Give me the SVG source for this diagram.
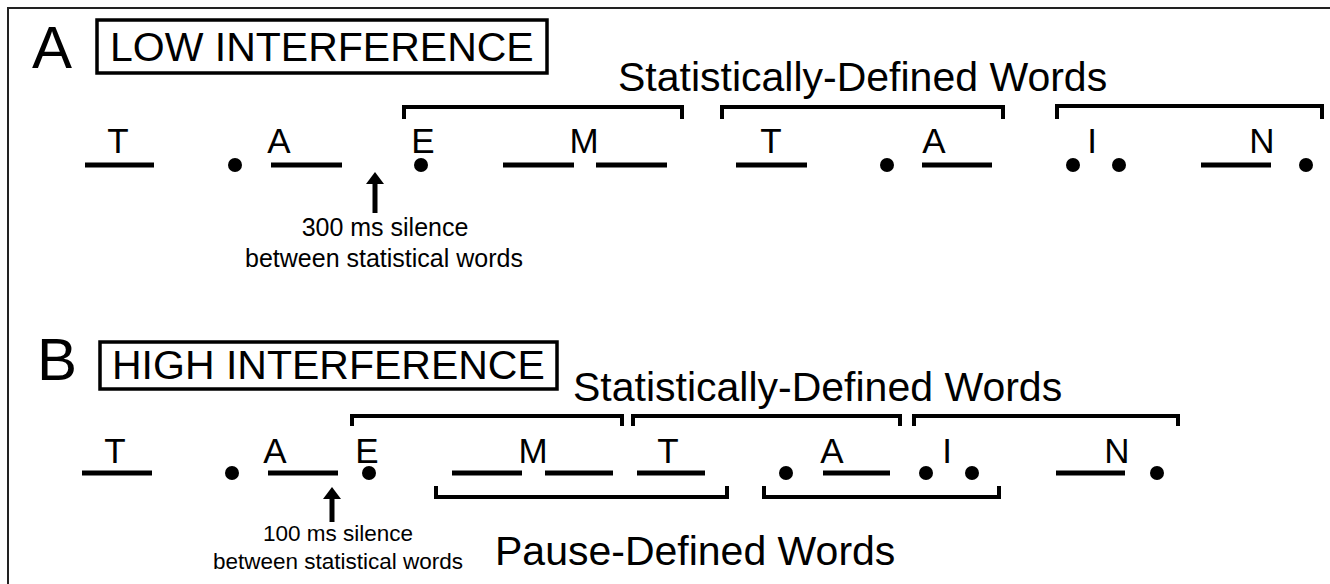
<svg xmlns="http://www.w3.org/2000/svg" width="1330" height="584" viewBox="0 0 1330 584">
<style>
text{font-family:"Liberation Sans",Arial,sans-serif;fill:#000}
.big{font-size:60px}
.title{font-size:41px}
.lab{font-size:35px;text-anchor:middle}
.small{font-size:25px;text-anchor:middle}
.smallb{font-size:22.5px;text-anchor:middle}
.seg{stroke:#000;stroke-width:5;fill:none}
.br{stroke:#000;stroke-width:4;fill:none;stroke-linejoin:miter}
.box{stroke:#000;stroke-width:3.5;fill:none}
.dot{fill:#000}
</style>
<defs>
<marker id="ah" viewBox="0 0 10 10" refX="5" refY="0" markerWidth="4" markerHeight="2.4" orient="auto" markerUnits="strokeWidth">
</marker>
</defs>
<rect width="1330" height="584" fill="#fff"/>
<path d="M8,600 V8 H1340" stroke="#222" stroke-width="2" fill="none"/>

<g id="panelA">
<g id="A-header">
<text class="big" x="32" y="68">A</text>
<rect class="box" x="97" y="20" width="450" height="53"/>
<text class="title" x="110" y="61">LOW INTERFERENCE</text>
<text class="title" x="618" y="91">Statistically-Defined Words</text>
</g>
<g id="A-T"><text class="lab" x="118" y="153">T</text><line class="seg" x1="85" y1="165" x2="154" y2="165"/></g>
<g id="A-dot1"><circle class="dot" cx="235" cy="165" r="7"/></g>
<g id="A-A"><text class="lab" x="279" y="153">A</text><line class="seg" x1="271" y1="165" x2="342" y2="165"/></g>
<g id="A-E"><text class="lab" x="423" y="153">E</text><circle class="dot" cx="421" cy="165" r="7"/></g>
<g id="A-M"><text class="lab" x="584" y="153">M</text><line class="seg" x1="503" y1="165" x2="574" y2="165"/><line class="seg" x1="596" y1="165" x2="667" y2="165"/></g>
<g id="A-T2"><text class="lab" x="771" y="153">T</text><line class="seg" x1="736" y1="165" x2="807" y2="165"/></g>
<g id="A-dot2"><circle class="dot" cx="887" cy="165" r="7"/></g>
<g id="A-A2"><text class="lab" x="934" y="153">A</text><line class="seg" x1="922" y1="165" x2="992" y2="165"/></g>
<g id="A-I"><circle class="dot" cx="1073" cy="165" r="7"/><text class="lab" x="1092" y="153">I</text><circle class="dot" cx="1119" cy="165" r="7"/></g>
<g id="A-N"><text class="lab" x="1262" y="153">N</text><line class="seg" x1="1201" y1="165" x2="1271" y2="165"/></g>
<g id="A-dot3"><circle class="dot" cx="1306" cy="165" r="7"/></g>
<g id="A-note">
<text class="small" x="385" y="236">300 ms silence</text>
<text class="small" x="384" y="267">between statistical words</text>
</g>
</g>

<g id="panelB">
<g id="B-header">
<text class="big" x="37" y="380">B</text>
<rect class="box" x="100" y="342" width="457" height="47"/>
<text class="title" x="112" y="379">HIGH INTERFERENCE</text>
<text class="title" x="573" y="401">Statistically-Defined Words</text>
<text class="title" x="495" y="565">Pause-Defined Words</text>
</g>
<g id="B-T"><text class="lab" x="115" y="463">T</text><line class="seg" x1="82" y1="473" x2="152" y2="473"/></g>
<g id="B-dot1"><circle class="dot" cx="232" cy="473" r="7"/></g>
<g id="B-A"><text class="lab" x="275" y="463">A</text><line class="seg" x1="268" y1="473" x2="338" y2="473"/></g>
<g id="B-E"><text class="lab" x="367" y="463">E</text><circle class="dot" cx="369" cy="473" r="7"/></g>
<g id="B-M"><text class="lab" x="533" y="463">M</text><line class="seg" x1="452" y1="473" x2="522" y2="473"/><line class="seg" x1="545" y1="473" x2="613" y2="473"/></g>
<g id="B-T2"><text class="lab" x="668" y="463">T</text><line class="seg" x1="637" y1="473" x2="705" y2="473"/></g>
<g id="B-dot2"><circle class="dot" cx="786" cy="473" r="7"/></g>
<g id="B-A2"><text class="lab" x="832" y="463">A</text><line class="seg" x1="823" y1="473" x2="890" y2="473"/></g>
<g id="B-I"><circle class="dot" cx="926" cy="473" r="7"/><text class="lab" x="947" y="463">I</text><circle class="dot" cx="972" cy="473" r="7"/></g>
<g id="B-N"><text class="lab" x="1117" y="463">N</text><line class="seg" x1="1056" y1="473" x2="1125" y2="473"/></g>
<g id="B-dot3"><circle class="dot" cx="1157" cy="473" r="7"/></g>
<g id="B-note">
<text class="smallb" x="338" y="541">100 ms silence</text>
<text class="smallb" x="338" y="569">between statistical words</text>
</g>
</g>

<g id="connectors">
<path class="br" d="M404,119 V107 H682 V119"/>
<path class="br" d="M722,119 V107 H1003 V119"/>
<path class="br" d="M1057,119 V106 H1322 V119"/>
<path class="br" d="M352,426 V416 H622 V426"/>
<path class="br" d="M633,426 V416 H900 V426"/>
<path class="br" d="M914,426 V416 H1178 V426"/>
<path class="br" d="M436,486 V497 H727 V486"/>
<path class="br" d="M764,486 V497 H999 V486"/>
<line x1="375" y1="182" x2="375" y2="213" stroke="#000" stroke-width="5"/>
<polygon points="375,172 366,184 384,184" fill="#000"/>
<line x1="332" y1="497" x2="332" y2="522" stroke="#000" stroke-width="5"/>
<polygon points="332,487 323,499 341,499" fill="#000"/>
</g>
</svg>
